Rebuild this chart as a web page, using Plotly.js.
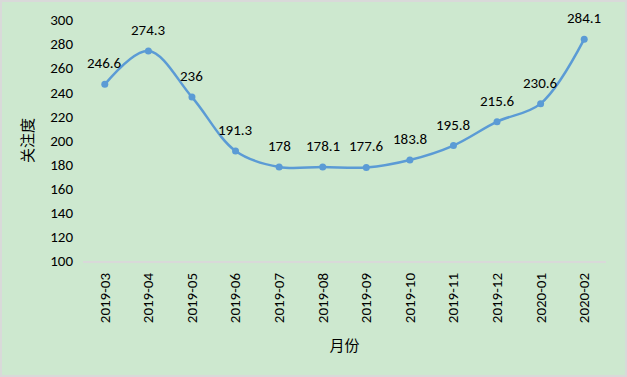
<!DOCTYPE html>
<html><head><meta charset="utf-8">
<script src="https://cdn.plot.ly/plotly-3.0.1.min.js"></script>
<style>html,body{margin:0;padding:0;background:#fff}#c{width:627px;height:377px;box-sizing:border-box;border:2px solid #d9d9d9}</style>
</head><body><div id="c"></div>
<script>
const months = ['2019-03','2019-04','2019-05','2019-06','2019-07','2019-08','2019-09','2019-10','2019-11','2019-12','2020-01','2020-02'];
const values = [246.6, 274.3, 236, 191.3, 178, 178.1, 177.6, 183.8, 195.8, 215.6, 230.6, 284.1];
const yTicks = [100,120,140,160,180,200,220,240,260,280,300];

const font = "Carlito, 'Noto Sans', 'Noto Sans CJK SC', sans-serif";
const trace = {
  x: months, y: values, type: 'scatter', mode: 'lines+markers',
  line: {color: '#5b9bd5', width: 2.5, shape: 'spline', smoothing: 1},
  marker: {color: '#5b9bd5', size: 7},
  hoverinfo: 'none'
};
const annotations = months.map((m, i) => ({
  x: m, y: values[i], text: String(values[i]), showarrow: false,
  yshift: 21, font: {family: font, size: 15, color: '#000'}
}));
const layout = {
  width: 623, height: 373,
  margin: {l: 81, r: 19, t: 18, b: 114},
  paper_bgcolor: '#cde8cf', plot_bgcolor: '#cde8cf',
  showlegend: false,
  font: {family: font, size: 15, color: '#000'},
  xaxis: {
    type: 'category', tickangle: -90, showgrid: false, zeroline: false,
    showline: true, linecolor: '#d9d9d9', linewidth: 2,
    ticks: '', ticklabelstandoff: 4,
    title: {text: '月份', font: {family: "'Noto Sans CJK SC', sans-serif", size: 15}, standoff: 18},
    range: [-0.5, 11.5]
  },
  yaxis: {
    range: [100, 300], tickvals: yTicks, showgrid: false, zeroline: false,
    showline: false, ticks: '', ticklabelstandoff: 9,
    title: {text: '关注度', font: {family: "'Noto Sans CJK SC', sans-serif", size: 15}, standoff: 12}
  },
  annotations: annotations
};
Plotly.newPlot('c', [trace], layout, {staticPlot: true, displayModeBar: false});
</script></body></html>
